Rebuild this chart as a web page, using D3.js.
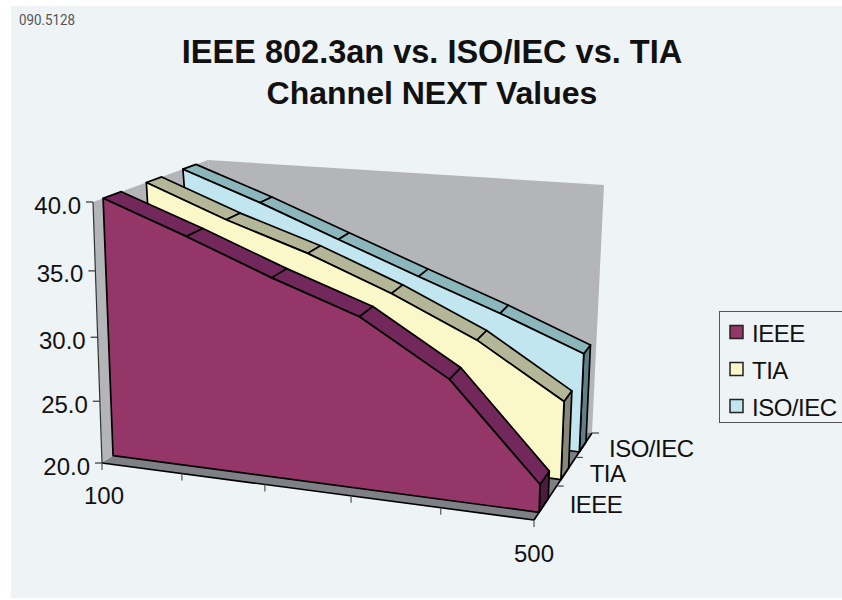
<!DOCTYPE html>
<html>
<head>
    <meta charset="utf-8" />
    <style>
        body { margin: 0; background: #fff; }
        svg { display: block; }
        text { font-family: "Liberation Sans", Arial, sans-serif; fill: #111; }
    </style>
    <script src="https://d3js.org/d3.v7.min.js"></script>
</head>
<body>
<svg id="svg"></svg>
<script>

let categories = ["100", "180", "260", "340", "420", "500"];
let seriesNames = ["IEEE", "TIA", "ISO/IEC"];
let ieeeValues = [40, 37.84, 35.46, 33.3, 29.4, 22.2];
let tiaValues = [40, 37.66, 35.66, 33.2, 30.3, 26.3];
let isoValues = [40, 37.75, 35.3, 32.9, 30.6, 28.1];
let valueTicks = [20, 25, 30, 35, 40];
let categoryLabels = ["100", "500"];

let seriesValues = [ieeeValues, tiaValues, isoValues];
let faceColors = ["#953669", "#faf8c9", "#c1e6f0"];
let topColors = ["#72285a", "#b3b797", "#8bb6bb"];
let sideColors = ["#4e1a3e", "#87887a", "#5f8088"];

let realW = 842;
let realH = 600;

let svg = d3.select("#svg")
    .attr("width", realW)
    .attr("height", realH);

// scales give 0..1 along each axis of the box
let xScale = d3.scalePoint().domain(categories).range([0, 1]);
let yScale = d3.scaleLinear().domain([20, 40]).range([0, 1]);
let zScale = d3.scaleBand().domain(seriesNames).range([-0.03, 0.97])
    .paddingInner(0.6).paddingOuter(0.3);

// corners of the box on screen: f/b front/back, l/r left/right, 0/1 floor/top
let box = {
    fl0: [102, 463], fr0: [534, 520], br0: [592, 433], bl0: [228, 380],
    fl1: [93, 202], fr1: [543, 248], br1: [604, 185], bl1: [208, 160]
};

// perspective foreshortening
function warp(t, a) {
    return a * t / (1 + (a - 1) * t);
}

function lerp(p, q, t) {
    return [p[0] + (q[0] - p[0]) * t, p[1] + (q[1] - p[1]) * t];
}

function project(u, v, w) {
    let uu = warp(u, 0.908);
    let vv = warp(v, 0.93);
    let ww = warp(w, 1.28);
    let floor = lerp(lerp(box.fl0, box.fr0, uu), lerp(box.bl0, box.br0, uu), ww);
    let roof = lerp(lerp(box.fl1, box.fr1, uu), lerp(box.bl1, box.br1, uu), ww);
    return lerp(floor, roof, vv);
}

function poly(parent, pts, fill, stroke, sw) {
    return parent.append("path")
        .attr("d", d3.line()(pts) + "Z")
        .attr("fill", fill)
        .attr("stroke", stroke || "none")
        .attr("stroke-width", sw || 0)
        .attr("stroke-linejoin", "round");
}

function seg(parent, a, b, color, sw) {
    parent.append("line")
        .attr("x1", a[0]).attr("y1", a[1])
        .attr("x2", b[0]).attr("y2", b[1])
        .attr("stroke", color)
        .attr("stroke-width", sw);
}

function label(str, x, y, anchor, size, extra) {
    return svg.append("text")
        .attr("x", x).attr("y", y)
        .attr("text-anchor", anchor)
        .attr("dominant-baseline", "central")
        .attr("font-size", size)
        .attr("letter-spacing", extra || 0)
        .text(str);
}

// background panel
svg.append("rect").attr("x", 11).attr("y", 6).attr("width", realW - 11).attr("height", 592).attr("fill", "#eef3f6");

svg.append("text").attr("x", 19).attr("y", 25)
    .attr("font-size", 15).attr("textLength", 56)
    .attr("lengthAdjust", "spacingAndGlyphs").style("font-family", "Roboto").style("fill", "#555")
    .text("090.5128");

label("IEEE 802.3an vs. ISO/IEC vs. TIA", 432, 52, "middle", 32.5).attr("font-weight", "bold");
label("Channel NEXT Values", 432, 93, "middle", 32).attr("font-weight", "bold");

// walls and floor
let walls = svg.append("g");
poly(walls, [project(0, 0, 0), project(0, 1, 0), project(0, 1, 1), project(0, 0, 1)], "#b4b5b9");
poly(walls, [project(0, 0, 1), project(0, 1, 1), project(1, 1, 1), project(1, 0, 1)], "#b4b5b9");
poly(walls, [project(0, 0, 0), project(1, 0, 0), project(1, 0, 1), project(0, 0, 1)], "#7e8086");

// ribbons, back one first
let ribbons = svg.append("g");
d3.range(seriesNames.length - 1, -1, -1).forEach(function(s) {
    let name = seriesNames[s];
    let values = seriesValues[s];
    let zF = zScale(name);
    let zB = zF + zScale.bandwidth();
    let last = categories.length - 1;

    poly(ribbons, [
        project(1, 0, zF), project(1, yScale(values[last]), zF),
        project(1, yScale(values[last]), zB), project(1, 0, zB)
    ], sideColors[s], "#000", 1.7);

    // top strip, one piece per category step
    for (let i = 0; i < last; i++) {
        let a = xScale(categories[i]);
        let b = xScale(categories[i + 1]);
        poly(ribbons, [
            project(a, yScale(values[i]), zF), project(b, yScale(values[i + 1]), zF),
            project(b, yScale(values[i + 1]), zB), project(a, yScale(values[i]), zB)
        ], topColors[s], "#000", 1.7);
    }

    let facePts = [project(0, 0, zF)];
    categories.forEach(function(c, i) {
        facePts.push(project(xScale(c), yScale(values[i]), zF));
    });
    facePts.push(project(1, 0, zF));
    poly(ribbons, facePts, faceColors[s], "#000", 1.7);
});

// value axis
let axes = svg.append("g");
seg(axes, project(0, 0, 0), project(0, 1, 0), "#333", 1.2);
valueTicks.forEach(function(t) {
    let p = project(0, yScale(t), 0);
    seg(axes, p, [p[0] - 7, p[1]], "#333", 1.2);
    label(d3.format(".1f")(t), p[0] - 12, p[1] + 3, "end", 24);
});

// category axis
seg(axes, project(0, 0, 0), project(1, 0, 0), "#000", 1.6);
categories.forEach(function(c) {
    let p = project(xScale(c), 0, 0);
    seg(axes, p, [p[0], p[1] + 7], "#555", 1.2);
    if (categoryLabels.includes(c)) {
        label(c, p[0] + (c === "100" ? 2 : 0), p[1] + (c === "100" ? 32 : 33), "middle", 24);
    }
});

// depth axis
seg(axes, project(1, 0, 0), project(1, 0, 1), "#000", 1.6);
let depthOffsets = [[13, 18], [14, 16], [17, 15]];
[1 / 3, 2 / 3, 1].forEach(function(w, i) {
    let p = project(1, 0, w);
    seg(axes, p, [p[0] + 7, p[1]], "#444", 1.2);
    label(seriesNames[i], p[0] + depthOffsets[i][0], p[1] + depthOffsets[i][1], "start", 24, -0.5);
});

// legend
let legendX = 719;
let legendY = 311;
svg.append("rect").attr("x", legendX + 0.5).attr("y", legendY + 0.5).attr("width", 130).attr("height", 111)
    .attr("fill", "#eef3f6").attr("stroke", "#555").attr("stroke-width", 1);
let legendRow = d3.scalePoint().domain(seriesNames).range([332, 406]);
seriesNames.forEach(function(name, i) {
    let y = legendRow(name);
    svg.append("rect").attr("x", 730).attr("y", y - 6.5).attr("width", 13).attr("height", 13)
        .attr("fill", faceColors[i]).attr("stroke", "#222").attr("stroke-width", 1.5);
    label(name, 752, y + 1, "start", 24, -0.5);
});

</script>
</body>
</html>
